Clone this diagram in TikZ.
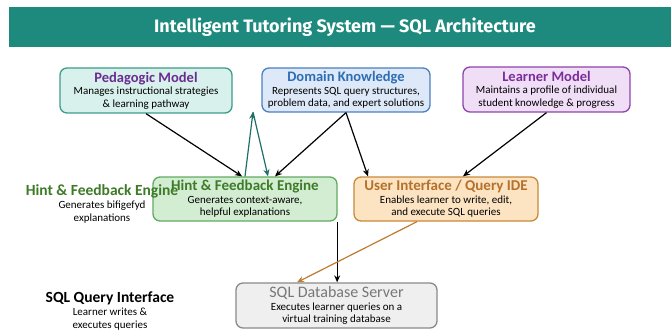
\documentclass[tikz,border=0pt]{standalone}
\usepackage{fontspec}
\setmainfont{Carlito}
\newfontfamily\titlefont{Fira Sans}
\usetikzlibrary{arrows.meta,calc}
\definecolor{banner}{HTML}{1E8A7E}
\definecolor{pedfill}{HTML}{D8F1EC}
\definecolor{peddraw}{HTML}{3E9C8C}
\definecolor{pedtext}{HTML}{6A2C91}
\definecolor{domfill}{HTML}{DDE9F8}
\definecolor{domdraw}{HTML}{4B80C2}
\definecolor{domtext}{HTML}{2E6DB4}
\definecolor{lrnfill}{HTML}{F0DDF6}
\definecolor{lrndraw}{HTML}{8E44AD}
\definecolor{lrntext}{HTML}{7B2E9A}
\definecolor{hntfill}{HTML}{D3EDD3}
\definecolor{hntdraw}{HTML}{62AA62}
\definecolor{hnttext}{HTML}{3E7B27}
\definecolor{uifill}{HTML}{FCE4C3}
\definecolor{uidraw}{HTML}{C98A3A}
\definecolor{uitext}{HTML}{B5702A}
\definecolor{dbfill}{HTML}{EFEFEF}
\definecolor{dbdraw}{HTML}{8A8A8A}
\definecolor{dbtext}{HTML}{777777}
\definecolor{tealarrow}{HTML}{1F6F66}
\definecolor{orarrow}{HTML}{C07A30}
\begin{document}
\begin{tikzpicture}[x=1pt,y=-1pt,
  box/.style={rounded corners=7pt, line width=1.3pt, align=center, inner sep=0pt,
    font=\fontsize{11}{12.5}\selectfont},
  ttl/.style={},
  conn/.style={line width=1.2pt, -{Stealth[length=7pt,width=6pt]}},
  side/.style={align=center, font=\fontsize{11}{13}\selectfont}
]
\useasboundingbox (0,0) rectangle (671,331);
\fill[white] (0,0) rectangle (671,331);
\node[fill=banner, minimum width=662pt, minimum height=40pt, inner sep=0pt, anchor=north west] (banner) at (9,7) {};
\node[text=white, font=\titlefont\bfseries\fontsize{18}{20}\selectfont] (title) at (345,27.5) {Intelligent Tutoring System — SQL Architecture};

\node[box, fill=pedfill, draw=peddraw, minimum width=172pt, minimum height=45pt] (ped) at (146,90.5)
  {{\fontsize{14.5}{15.5}\selectfont\bfseries\color{pedtext}Pedagogic Model}\\Manages instructional strategies\\\& learning pathway};
\node[box, fill=domfill, draw=domdraw, minimum width=168pt, minimum height=44pt] (dom) at (346,90)
  {{\fontsize{14.5}{15.5}\selectfont\bfseries\color{domtext}Domain Knowledge}\\Represents SQL query structures,\\problem data, and expert solutions};
\node[box, fill=lrnfill, draw=lrndraw, minimum width=167pt, minimum height=45pt] (lrn) at (546.5,89.5)
  {{\fontsize{14.5}{15.5}\selectfont\bfseries\color{lrntext}Learner Model}\\Maintains a profile of individual\\student knowledge \& progress};
\node[box, fill=hntfill, draw=hntdraw, minimum width=184pt, minimum height=44pt] (hnt) at (245,199)
  {{\fontsize{15}{15.5}\selectfont\bfseries\color{hnttext}Hint \& Feedback Engine}\\Generates context-aware,\\helpful explanations};
\node[box, fill=uifill, draw=uidraw, minimum width=184pt, minimum height=44pt] (ui) at (446,199)
  {{\fontsize{15}{15.5}\selectfont\bfseries\color{uitext}User Interface / Query IDE}\\Enables learner to write, edit,\\and execute SQL queries};
\node[box, fill=dbfill, draw=dbdraw, minimum width=201pt, minimum height=45pt] (db) at (336.5,305.5)
  {{\fontsize{16}{16}\selectfont\color{dbtext}SQL Database Server}\\Executes learner queries on a\\virtual training database};

\node[side] (hntlabel) at (102,204)
  {{\fontsize{15.5}{17}\selectfont\bfseries\color{hnttext}Hint \& Feedback Engine}\\Generates bifigefyd\\explanations};
\node[side] (sqllabel) at (110,311)
  {{\fontsize{15.5}{17}\selectfont\bfseries SQL Query Interface}\\Learner writes \&\\executes queries};

\coordinate (tp) at (253,112);
\draw[conn] (ped.south) -- ([xshift=-3pt]hnt.north);
\draw[conn, tealarrow] (hnt.north) -- (tp);
\draw[conn, tealarrow] (tp) -- ([xshift=23pt]hnt.north);
\draw[conn] (dom.south) -- ([xshift=30pt]hnt.north);
\draw[conn] (dom.south) -- ([xshift=-78pt]ui.north);
\draw[conn] (lrn.south) -- ([xshift=17pt]ui.north);
\draw[conn] ([xshift=-0.5pt]hnt.south east) -- ([xshift=-0.5pt]hnt.south east |- db.north);
\draw[conn, orarrow] ([xshift=-29pt]ui.south) -- ([xshift=-39.5pt]db.north);
\end{tikzpicture}
\end{document}
